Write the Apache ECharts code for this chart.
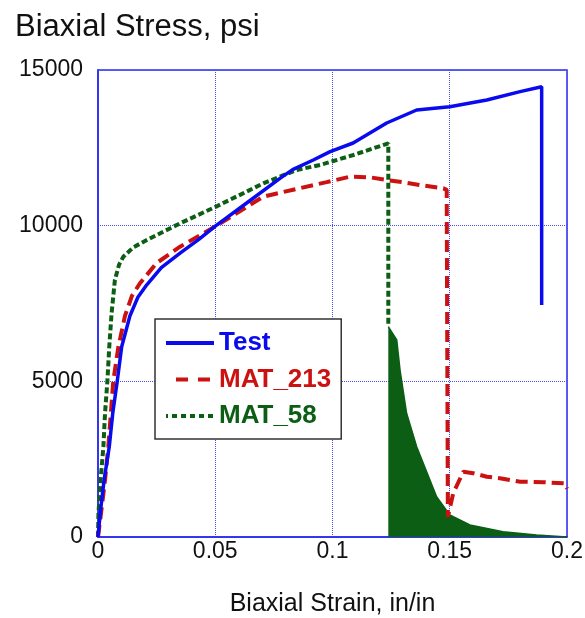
<!DOCTYPE html>
<html><head><meta charset="utf-8">
<script src="https://cdn.jsdelivr.net/npm/echarts@6/dist/echarts.min.js"></script>
<style>html,body{margin:0;padding:0;background:#fff}#c{width:585px;height:618px}</style>
</head><body><div id="c"></div>
<script>
const seriesNames = ['Test', 'MAT_213', 'MAT_58'];

const testStrain = [0, 0.001, 0.0026, 0.0048, 0.0063, 0.0082, 0.0101, 0.0136, 0.017, 0.0208, 0.027, 0.035, 0.043, 0.0503, 0.0634, 0.0776, 0.083, 0.0918, 0.099, 0.1088, 0.1231, 0.1359, 0.150, 0.1658, 0.180, 0.1892, 0.1892];
const testStress = [0, 800, 1830, 2900, 3980, 5000, 6110, 7100, 7700, 8100, 8650, 9120, 9560, 10000, 10728, 11520, 11800, 12109, 12380, 12655, 13298, 13715, 13822, 14036, 14304, 14464, 7450];

const mat213Strain = [0, 0.0013, 0.003, 0.0044, 0.0055, 0.0065, 0.0087, 0.0115, 0.0145, 0.0179, 0.025, 0.035, 0.0503, 0.0704, 0.0847, 0.0975, 0.1075, 0.116, 0.1231, 0.1302, 0.1373, 0.1473, 0.1487, 0.1492, 0.1515, 0.1558, 0.16, 0.1658, 0.172, 0.18, 0.19, 0.1991, 0.2];
const mat213Stress = [0, 770, 1830, 2900, 3980, 5000, 6110, 7100, 7750, 8150, 8800, 9325, 9990, 10930, 11180, 11400, 11573, 11553, 11467, 11392, 11306, 11199, 11150, 650, 1410, 2098, 2050, 1937, 1880, 1776, 1760, 1724, 1550];

const mat58Strain = [0, 0.0002, 0.0011, 0.0023, 0.003, 0.004, 0.0048, 0.0058, 0.0072, 0.009, 0.0108, 0.015, 0.0208, 0.035, 0.0503, 0.0705, 0.0847, 0.0947, 0.1089, 0.1238, 0.1238];
const mat58Stress = [0, 770, 1830, 2900, 3980, 5000, 6110, 7190, 8255, 8750, 9003, 9300, 9539, 10075, 10610, 11360, 11788, 11949, 12270, 12645, 6755];

// envelope of the oscillating post-failure MAT_58 response (drawn filled)
const mat58TailStrain = [0.1238, 0.1245, 0.1274, 0.1288, 0.1316, 0.1359, 0.1444, 0.150, 0.1586, 0.1727, 0.187, 0.2];
const mat58TailStress = [6755, 6700, 6327, 5364, 3973, 2900, 1294, 707, 385, 171, 64, 0];

const pairs = (xs, ys) => xs.map((x, i) => [x, ys[i]]);

const BLUE = '#0a0aee', RED = '#cc1111', GREEN = '#0b5e14', AXIS = '#2a2aee';
const FONT = 'Liberation Sans, Arial, sans-serif';

const chart = echarts.init(document.getElementById('c'), null, {renderer: 'canvas'});
chart.setOption({
  animation: false,
  backgroundColor: '#fff',
  title: {
    text: 'Biaxial Stress, psi', left: 10, top: 7,
    textStyle: {fontFamily: FONT, fontSize: 31, fontWeight: 'normal', color: '#111'}
  },
  grid: {left: 98, top: 70, right: 18, bottom: 81, outerBoundsMode: 'none', containLabel: false,
         show: true, borderColor: AXIS, borderWidth: 1.5, backgroundColor: 'transparent'},
  legend: {
    left: 155, top: 319, orient: 'vertical', itemWidth: 48, itemHeight: 26, itemGap: 10.5,
    padding: [11, 10, 10, 9], borderColor: '#333', borderWidth: 1.5, backgroundColor: '#fff',
    itemStyle: {opacity: 0},
    textStyle: {fontFamily: FONT, fontSize: 26, fontWeight: 'bold'},
    data: [
      {name: seriesNames[0], textStyle: {color: BLUE}, lineStyle: {width: 4}},
      {name: seriesNames[1], textStyle: {color: RED}, lineStyle: {width: 4, type: [12, 10], dashOffset: 12, cap: 'butt'}},
      {name: seriesNames[2], textStyle: {color: GREEN}, lineStyle: {width: 4, type: [5, 4]}}
    ]
  },
  xAxis: {
    type: 'value', min: 0, max: 0.2, interval: 0.05,
    name: 'Biaxial Strain, in/in', nameLocation: 'middle', nameGap: 55,
    nameTextStyle: {fontFamily: FONT, fontSize: 25, color: '#111'},
    axisLine: {show: true, lineStyle: {color: AXIS, width: 1.5}},
    axisTick: {show: false},
    axisLabel: {fontFamily: FONT, fontSize: 23, color: '#111', margin: 3},
    splitLine: {show: true, lineStyle: {color: '#4b4bff', width: 1, type: [1, 1]}}
  },
  yAxis: {
    type: 'value', min: 0, max: 15000, interval: 5000,
    axisLine: {show: true, lineStyle: {color: AXIS, width: 1.5}},
    axisTick: {show: false},
    axisLabel: {fontFamily: FONT, fontSize: 23, color: '#111', margin: 15, padding: [0, 0, 5, 0],
                formatter: v => String(v)},
    splitLine: {show: true, lineStyle: {color: '#4b4bff', width: 1, type: [1, 1]}}
  },
  series: [
    {name: 'MAT_58 tail', type: 'line', data: pairs(mat58TailStrain, mat58TailStress), symbol: 'none', z: 1,
     lineStyle: {color: GREEN, width: 1.5}, areaStyle: {color: GREEN, opacity: 1}, silent: true},
    {name: seriesNames[2], type: 'line', data: pairs(mat58Strain, mat58Stress), symbol: 'none', z: 2,
     itemStyle: {color: GREEN}, lineStyle: {color: GREEN, width: 4, type: [6, 3]}},
    {name: seriesNames[1], type: 'line', data: pairs(mat213Strain, mat213Stress), symbol: 'none', z: 3,
     itemStyle: {color: RED}, lineStyle: {color: RED, width: 4, type: [12, 6]}},
    {name: seriesNames[0], type: 'line', data: pairs(testStrain, testStress), symbol: 'none', z: 4,
     itemStyle: {color: BLUE}, lineStyle: {color: BLUE, width: 3.5}}
  ]
});
</script></body></html>
